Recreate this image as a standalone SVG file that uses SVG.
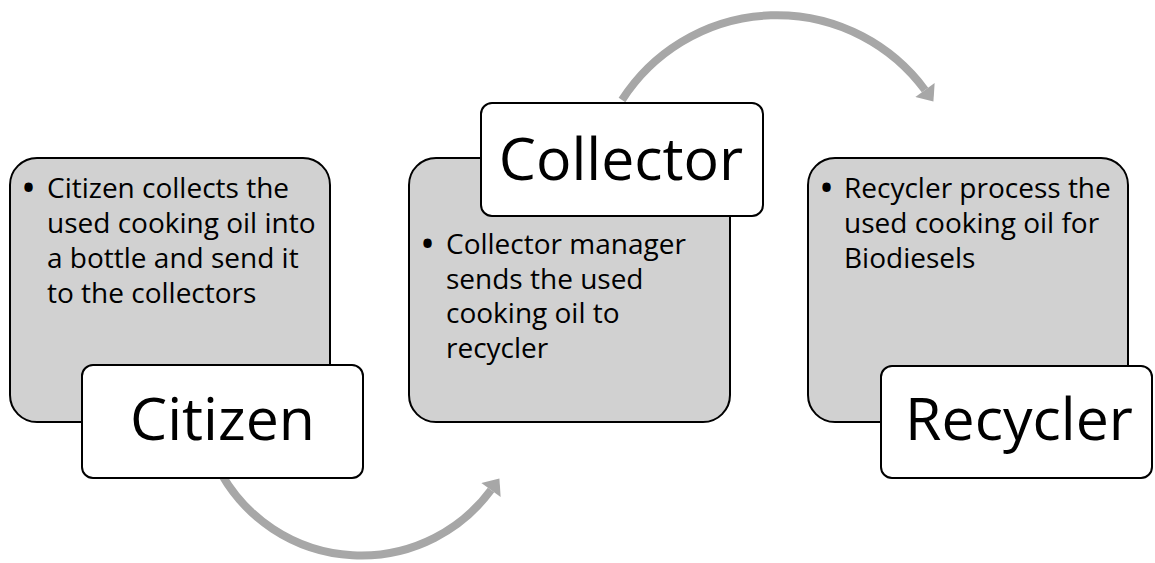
<svg xmlns="http://www.w3.org/2000/svg" width="1155" height="563" viewBox="0 0 1155 563">
<style>
.detail{fill:#d1d1d1;stroke:#000;stroke-width:2}
.label{fill:#fff;stroke:#000;stroke-width:2}
.btxt{font-family:"Open Sans","Noto Sans",sans-serif;font-size:28px;fill:#000}
.bul{font-size:40px}
.ltxt{font-family:"Open Sans","Noto Sans",sans-serif;font-size:59px;fill:#000;text-anchor:middle}
.arc{fill:none;stroke:#a7a7a7;stroke-width:8}
</style>
<defs>
<marker id="ah" markerUnits="userSpaceOnUse" markerWidth="20" markerHeight="24" viewBox="0 -11 14 22" refX="0" refY="0" orient="auto">
<path d="M0,-11 L13,0 L0,11 z" fill="#a7a7a7"/>
</marker>
</defs>
<rect width="1155" height="563" fill="#fff"/>
<g id="connectors">
<path class="arc" d="M622,100 A184,184 0 0 1 925,90" marker-end="url(#ah)"/>
<path class="arc" d="M222,475 A161,161 0 0 0 491,490" marker-end="url(#ah)"/>
</g>
<g id="node-citizen">
<rect class="detail" x="10" y="158" width="320" height="264" rx="27"/>
<text class="btxt"><tspan class="bul" x="21" y="202">•</tspan><tspan x="47" y="198">Citizen collects the</tspan><tspan x="47" y="233">used cooking oil into</tspan><tspan x="47" y="268">a bottle and send it</tspan><tspan x="47" y="303">to the collectors</tspan></text>
<rect class="label" x="82" y="365" width="281" height="113" rx="11"/>
<text class="ltxt" x="222.5" y="440">Citizen</text>
</g>
<g id="node-collector">
<rect class="detail" x="409" y="158" width="321" height="264" rx="27"/>
<rect class="label" x="481" y="103" width="282" height="113" rx="11"/>
<text class="ltxt" x="621" y="180">Collector</text>
<text class="btxt"><tspan class="bul" x="420" y="258">•</tspan><tspan x="446" y="254">Collector manager</tspan><tspan x="446" y="288.5">sends the used</tspan><tspan x="446" y="323">cooking oil to</tspan><tspan x="446" y="357.5">recycler</tspan></text>
</g>
<g id="node-recycler">
<rect class="detail" x="808" y="158" width="320" height="264" rx="27"/>
<text class="btxt"><tspan class="bul" x="819" y="202">•</tspan><tspan x="844" y="198">Recycler process the</tspan><tspan x="844" y="233">used cooking oil for</tspan><tspan x="844" y="268">Biodiesels</tspan></text>
<rect class="label" x="881" y="366" width="271" height="112" rx="11"/>
<text class="ltxt" x="1019" y="440">Recycler</text>
</g>
</svg>
